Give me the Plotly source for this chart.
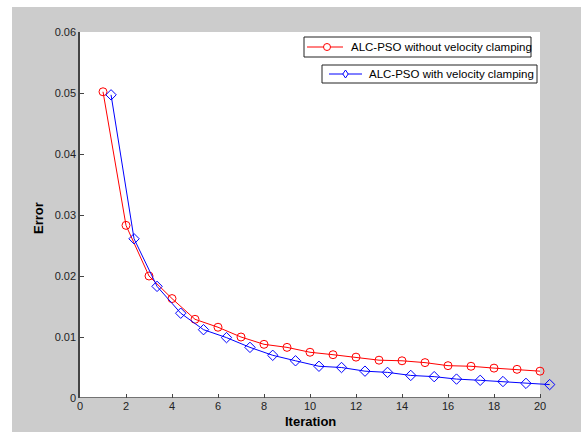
import plotly.graph_objects as go

iter_red = list(range(1, 21))
err_red = [0.0502, 0.0283, 0.0200, 0.0163, 0.0129, 0.0116, 0.0100, 0.0088, 0.0083, 0.0075,
           0.0071, 0.0067, 0.0062, 0.0061, 0.0058, 0.0053, 0.0052, 0.0049, 0.0047, 0.0044]
iter_blue = [1.35, 2.35, 3.35, 4.38, 5.37, 6.37, 7.39, 8.38, 9.37, 10.39,
             11.37, 12.39, 13.37, 14.38, 15.40, 16.37, 17.40, 18.39, 19.39, 20.42]
err_blue = [0.0497, 0.0261, 0.0183, 0.0139, 0.0112, 0.0099, 0.0083, 0.0070, 0.0061, 0.0052,
            0.0050, 0.0044, 0.0042, 0.0037, 0.0035, 0.0031, 0.0029, 0.0027, 0.0024, 0.0022]
x_ticks = list(range(0, 21, 2))
y_ticks = [0, 0.01, 0.02, 0.03, 0.04, 0.05, 0.06]
name_red = "ALC-PSO without velocity clamping"
name_blue = "ALC-PSO with velocity clamping"

W, H = 581, 432
L, R, T, B = 80, 29, 32, 34
pw = W - L - R
ph = H - T - B
GRAY = "#cccccc"
RED = "#ff0000"
BLUE = "#0000ff"
FONT = "Liberation Sans, Arial, sans-serif"


def px(x):
    return (x - L) / pw


def py(y):
    return (H - B - y) / ph


fig = go.Figure()
fig.add_trace(go.Scatter(
    x=iter_red, y=err_red, mode="lines+markers", name=name_red,
    line=dict(color=RED, width=1),
    marker=dict(symbol="circle-open", size=8, color=RED, line=dict(width=1)),
    cliponaxis=False, showlegend=False))
fig.add_trace(go.Scatter(
    x=iter_blue, y=err_blue, mode="lines+markers", name=name_blue,
    line=dict(color=BLUE, width=1),
    marker=dict(symbol="diamond-open", size=8, color=BLUE, line=dict(width=1)),
    cliponaxis=False, showlegend=False))

xmax = pw / 23.0
shapes = [
    dict(type="rect", xref="x", yref="y", x0=0, x1=20, y0=0, y1=0.06,
         fillcolor="white", line=dict(width=0), layer="below"),
    dict(type="line", xref="x", yref="y", x0=0, x1=20, y0=0, y1=0,
         line=dict(color="#444444", width=1.5), layer="above"),
    dict(type="rect", xref="paper", yref="paper",
         x0=px(-5), x1=px(12), y0=py(H + 5), y1=py(-5),
         fillcolor="white", line=dict(width=0), layer="below"),
    dict(type="rect", xref="paper", yref="paper",
         x0=px(-5), x1=px(W + 5), y0=py(7), y1=py(-5),
         fillcolor="white", line=dict(width=0), layer="below"),
]

# legend boxes (decoration)
legends = [
    (304, 531, 37, 57, 307, 343, 327, 349, RED, "circle", name_red),
    (322, 537, 65, 83, 329, 362, 345.5, 367, BLUE, "diamond", name_blue),
]
annotations = []
for bx0, bx1, by0, by1, lx0, lx1, mx, tx, col, kind, label in legends:
    cy = (by0 + by1) / 2
    shapes.append(dict(type="rect", xref="paper", yref="paper",
                       x0=px(bx0), x1=px(bx1), y0=py(by1), y1=py(by0),
                       fillcolor="white", line=dict(color="#222222", width=1), layer="above"))
    shapes.append(dict(type="line", xref="paper", yref="paper",
                       x0=px(lx0), x1=px(lx1), y0=py(cy), y1=py(cy),
                       line=dict(color=col, width=1), layer="above"))
    if kind == "circle":
        shapes.append(dict(type="circle", xref="paper", yref="paper",
                           x0=px(mx - 3.5), x1=px(mx + 3.5), y0=py(cy + 3.5), y1=py(cy - 3.5),
                           fillcolor="white", line=dict(color=col, width=1), layer="above"))
    else:
        path = "M {} {} L {} {} L {} {} L {} {} Z".format(
            px(mx), py(cy - 4), px(mx + 2.7), py(cy), px(mx), py(cy + 4), px(mx - 2.7), py(cy))
        shapes.append(dict(type="path", xref="paper", yref="paper", path=path,
                           fillcolor="white", line=dict(color=col, width=1), layer="above"))
    annotations.append(dict(text=label, xref="paper", yref="paper", x=px(tx), y=py(cy),
                            xanchor="left", yanchor="middle", showarrow=False,
                            font=dict(family=FONT, size=11.5, color="#000000")))

annotations += [
    dict(text="<b>Iteration</b>", xref="paper", yref="paper",
         x=px(310), y=py(421), showarrow=False,
         xanchor="center", yanchor="middle", font=dict(size=13, color="#000000")),
    dict(text="<b>Error</b>", xref="paper", yref="paper",
         x=px(38), y=py(218), showarrow=False, textangle=-90,
         xanchor="center", yanchor="middle", font=dict(size=13, color="#000000")),
]

fig.update_layout(
    width=W, height=H, showlegend=False,
    margin=dict(l=L, r=R, t=T, b=B, pad=0),
    paper_bgcolor=GRAY, plot_bgcolor=GRAY,
    font=dict(family=FONT, size=11, color="#222222"),
    shapes=shapes, annotations=annotations,
    xaxis=dict(range=[0, xmax], tickvals=x_ticks, ticks="inside", ticklen=4,
               tickcolor="#444444", showgrid=False, zeroline=False, showline=False,
               tickfont=dict(size=11, color="#222222")),
    yaxis=dict(range=[0, 0.06], tickvals=y_ticks,
               ticktext=["0", "0.01", "0.02", "0.03", "0.04", "0.05", "0.06"],
               ticks="inside", ticklen=4,
               tickcolor="#444444", showgrid=False, zeroline=False, showline=True,
               linecolor="#444444", linewidth=1.5,
               tickfont=dict(size=11, color="#222222")),
)

fig.write_html("out.html", config={"displayModeBar": False},
               post_script="document.body.style.margin='0';")
